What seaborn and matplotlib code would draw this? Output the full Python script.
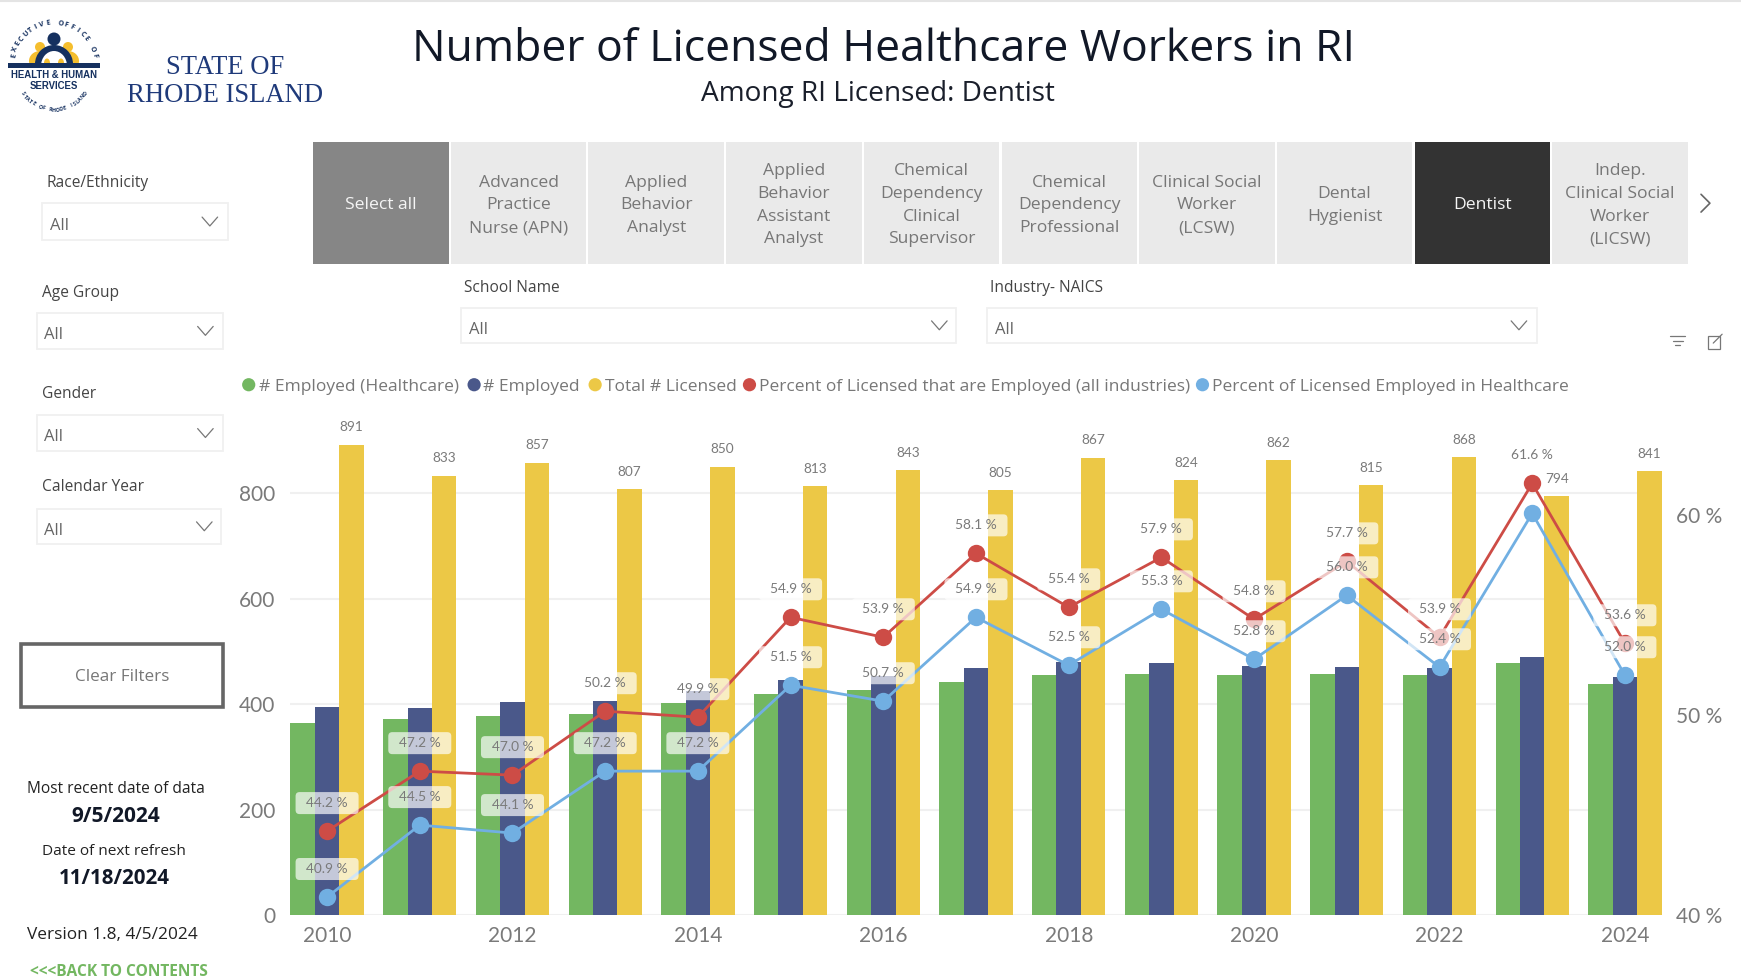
import numpy as np
import pandas as pd
import matplotlib
matplotlib.use("Agg")
import matplotlib.pyplot as plt
from matplotlib.patches import Rectangle, Circle, Ellipse, FancyBboxPatch
from matplotlib.transforms import IdentityTransform
import seaborn as sns

# ---------- data ----------
years = list(range(2010, 2025))
employed_healthcare = [364, 371, 378, 381, 401, 419, 427, 442, 455, 456, 455, 456, 455, 477, 437]
employed = [394, 393, 403, 405, 424, 446, 454, 468, 480, 477, 472, 470, 468, 489, 451]
total_licensed = [891, 833, 857, 807, 850, 813, 843, 805, 867, 824, 862, 815, 868, 794, 841]
pct_employed = [44.2, 47.2, 47.0, 50.2, 49.9, 54.9, 53.9, 58.1, 55.4, 57.9, 54.8, 57.7, 53.9, 61.6, 53.6]
pct_healthcare = [40.9, 44.5, 44.1, 47.2, 47.2, 51.5, 50.7, 54.9, 52.5, 55.3, 52.8, 56.0, 52.4, 60.1, 52.0]
bar_series = ["# Employed (Healthcare)", "# Employed", "Total # Licensed"]
line_series = ["Percent of Licensed that are Employed (all industries)",
               "Percent of Licensed Employed in Healthcare"]
slicer_items = ["Select all", "Advanced\nPractice\nNurse (APN)", "Applied\nBehavior\nAnalyst",
                "Applied\nBehavior\nAssistant\nAnalyst", "Chemical\nDependency\nClinical\nSupervisor",
                "Chemical\nDependency\nProfessional", "Clinical Social\nWorker\n(LCSW)", "Dental\nHygienist",
                "Dentist", "Indep.\nClinical Social\nWorker\n(LICSW)"]
title = "Number of Licensed Healthcare Workers in RI"
subtitle = "Among RI Licensed: Dentist"

GREEN, NAVY, YELLOW, RED, BLUE = "#73B761", "#4A588A", "#ECC846", "#CD4C46", "#71AFE2"
GRAY = "#7A7A7A"
UI = "Open Sans"
NUM = "Lato"
S = 1741 / 1568  # shrunk-view coordinates to full pixels

sns.set_theme(style="white")
plt.rcParams["font.family"] = [UI, "DejaVu Sans"]

W, H = 1741, 977
fig = plt.figure(figsize=(W / 100, H / 100), dpi=100, facecolor="white")

# ---------- page furniture, in pixel coordinates ----------
ui = fig.add_axes([0, 0, 1, 1], zorder=0)
ui.set_xlim(0, W)
ui.set_ylim(H, 0)
ui.axis("off")


def T(x, y, s, size=11, color="#333333", ha="center", va="center", **kw):
    return ui.text(x * S, (y + 2) * S, s, fontsize=size, color=color, ha=ha, va=va, **kw)


def chevron(x, y, w=7, h=4, color="#777777"):
    ui.plot([(x - w) * S, x * S, (x + w) * S], [(y - h) * S, (y + h) * S, (y - h) * S],
            color=color, lw=0.9, solid_capstyle="round")


def dropdown(x0, x1, y0, y1, label, lx, ly, chev):
    ui.add_patch(Rectangle((x0 * S, y0 * S), (x1 - x0) * S, (y1 - y0) * S,
                           fc="white", ec="#F0F0F0", lw=1.3))
    T(lx, ly - 1, label, size=11.2, color="#444444", ha="left")
    T(x0 + 7, (y0 + y1) / 2 + 2, "All", size=12, color="#666666", ha="left")
    chevron(chev, (y0 + y1) / 2)


ui.plot([0, W], [1, 1], color="#E4E4E4", lw=1.5)

T(796, 42.5, title, size=32, color="#111827")
T(791, 82.5, subtitle, size=20.2, color="#1A1F2B")
T(203, 59, "STATE OF", size=19.2, color="#1F3A7A", family="Liberation Serif")
T(203, 84, "RHODE ISLAND", size=19.2, color="#1F3A7A", family="Liberation Serif")

# logo
lx, ly, R = 54, 64, 39
LOGO_NAVY, LOGO_Y = "#15305F", "#F5BE2E"
for px in (40, 68):
    ui.add_patch(Circle((px, 47), 5, fc=LOGO_Y, ec="none"))
    ui.add_patch(Ellipse((px, 61), 22, 20, fc=LOGO_Y, ec="none"))
ui.add_patch(Circle((54, 39), 6.5, fc=LOGO_NAVY, ec="none"))
ui.add_patch(Ellipse((54, 64), 38, 38, fc=LOGO_NAVY, ec="none"))
ui.add_patch(Ellipse((54, 66), 26, 30, fc="white", ec="none"))
ui.add_patch(Ellipse((47, 63), 6, 9, fc=LOGO_Y, ec="none"))
ui.add_patch(Ellipse((61, 63), 6, 9, fc=LOGO_Y, ec="none"))
ui.add_patch(Rectangle((0, 66.5), 120, 40, fc="white", ec="none"))
ui.add_patch(Rectangle((8, 63), 92, 4.5, fc=LOGO_NAVY, ec="none"))
ui.text(54, 75, "HEALTH & HUMAN", fontsize=6.9, color=LOGO_NAVY, fontweight="bold",
        ha="center", va="center", family="Liberation Sans")
ui.text(54, 86, "SERVICES", fontsize=6.9, color=LOGO_NAVY, fontweight="bold",
        ha="center", va="center", family="Liberation Sans")
top_arc = "EXECUTIVE OFFICE OF"
for i, ch in enumerate(top_arc):
    a = np.deg2rad(168 - i * 156 / (len(top_arc) - 1))
    ui.text(lx + R * 1.05 * np.cos(a), ly - R * np.sin(a) * 1.05, ch, fontsize=5.2, color=LOGO_NAVY,
            rotation=np.rad2deg(a) - 90, ha="center", va="center", fontweight="bold")
bot_arc = "STATE OF RHODE ISLAND"
for i, ch in enumerate(bot_arc):
    a = np.deg2rad(215 + i * 110 / (len(bot_arc) - 1))
    ui.text(lx + 38 * np.cos(a), ly + 8 - 38 * np.sin(a), ch, fontsize=3.8, color=LOGO_NAVY,
            rotation=np.rad2deg(a) + 90, ha="center", va="center", fontweight="bold")

# slicer tiles
for i, item in enumerate(slicer_items):
    x0 = 282 + i * 124
    fc, tc = "#EAEAEA", "#777777"
    if item == "Select all":
        fc, tc = "#868686", "#F5F5F5"
    if item == "Dentist":
        fc, tc = "#333333", "#F5F5F5"
    ui.add_patch(Rectangle((x0 * S, 128 * S), 122 * S, 110 * S, fc=fc, ec="none"))
    T(x0 + 61, 183, item, size=12.6, color=tc, linespacing=1.56)
chv_x, chv_y = 1536, 183
ui.plot([(chv_x - 4) * S, (chv_x + 4) * S, (chv_x - 4) * S],
        [(chv_y - 8) * S, chv_y * S, (chv_y + 8) * S], color="#666666", lw=1.2)

# dropdowns
dropdown(38, 205, 183, 216, "Race/Ethnicity", 42, 164, 189)
dropdown(33, 201, 282, 314, "Age Group", 38, 263, 185)
dropdown(33, 201, 374, 406, "Gender", 38, 354, 185)
dropdown(33, 199, 458, 490, "Calendar Year", 38, 438, 184)
dropdown(415, 861, 277, 309, "School Name", 418, 258, 846)
dropdown(889, 1384, 277, 309, "Industry- NAICS", 892, 258, 1368)

# clear filters and notes
ui.add_patch(Rectangle((19 * S, 580 * S), 182 * S, 57 * S, fc="white", ec="#666666", lw=2.6))
T(110, 608, "Clear Filters", size=12.3, color="#777777")
T(104, 709, "Most recent date of data", size=11.2, color="#222222")
T(104, 733, "9/5/2024", size=15, color="#111827", fontweight="bold")
T(103, 765, "Date of next refresh", size=11.1, color="#222222")
T(103, 789, "11/18/2024", size=14.8, color="#111827", fontweight="bold")
T(101, 840, "Version 1.8, 4/5/2024", size=12.4, color="#222222")
T(107, 873, "<<<BACK TO CONTENTS", size=11.2, color="#73B761", fontweight="bold")

# small visual-header icons
for k, (hw, dy) in enumerate([(7, -4), (4.5, 0), (2, 4)]):
    ui.plot([(1511 - hw) * S, (1511 + hw) * S], [(307 + dy) * S] * 2, color="#777777", lw=0.9)
ui.add_patch(Rectangle((1538 * S, 303 * S), 11 * S, 11 * S, fc="none", ec="#777777", lw=0.9))
ui.plot([1543 * S, 1551 * S], [309 * S, 301 * S], color="#777777", lw=0.9)

# legend row
legend_row = [(bar_series[0], GREEN, 224, 233), (bar_series[1], NAVY, 427, 435),
              (bar_series[2], YELLOW, 536, 545), (line_series[0], RED, 675, 684),
              (line_series[1], BLUE, 1083, 1092)]
for name, col, cx, tx in legend_row:
    ui.add_patch(Circle((cx * S, 346.5 * S), 6.6, fc=col, ec="none"))
    T(tx, 346.5, name, size=12.5, color="#777777", ha="left")

# ---------- chart ----------
px_left, px_right, px_bottom, px_top = 290, 1662, 915, 430
ax = fig.add_axes([px_left / W, 1 - px_bottom / H, (px_right - px_left) / W, (px_bottom - px_top) / H], zorder=2)
ax.patch.set_alpha(0)

bars = pd.DataFrame({
    "Year": years * 3,
    "Series": np.repeat(bar_series, len(years)),
    "Count": employed_healthcare + employed + total_licensed,
})
sns.barplot(data=bars, x="Year", y="Count", hue="Series", hue_order=bar_series,
            palette=[GREEN, NAVY, YELLOW], width=0.79, gap=0, saturation=1,
            legend=False, ax=ax, zorder=3, linewidth=0)
ax.bar_label(ax.containers[2], fmt="%d", padding=8.3, fontsize=9.8, color=GRAY, family=NUM)

ax.set_xlim(-0.4, 14.4)
ax.set_ylim(0, 485 / 0.5275)
ax.set_yticks([0, 200, 400, 600, 800])
ax.yaxis.grid(True, color="#F0F0F0", lw=1.5, zorder=0)
ax.set_axisbelow(True)
ax.set_xticks(range(0, 15, 2))
ax.set_xticklabels([str(y) for y in years[::2]])
ax.set_xlabel("")
ax.set_ylabel("")
ax.tick_params(axis="both", length=0, labelcolor=GRAY, labelsize=15)
ax.tick_params(axis="x", pad=8)
ax.tick_params(axis="y", pad=10.6)
for s in ax.spines.values():
    s.set_visible(False)
for lab in ax.get_xticklabels() + ax.get_yticklabels():
    lab.set_family(NUM)

ax2 = ax.twinx()
ax2.patch.set_alpha(0)
lines = pd.DataFrame({
    "Year": years * 2,
    "Series": np.repeat(line_series, len(years)),
    "Pct": pct_employed + pct_healthcare,
})
sns.pointplot(data=lines, x="Year", y="Pct", hue="Series", hue_order=line_series[::-1],
              palette=[BLUE, RED], markers="o", markersize=11, linewidth=2.0,
              errorbar=None, dodge=False, legend=False, ax=ax2)
ax2.set_xlim(-0.4, 14.4)
ax2.set_ylim(40, 40 + 485 / 19.98)
ax2.set_yticks([40, 50, 60])
ax2.set_yticklabels(["40 %", "50 %", "60 %"])
ax2.set_xlabel("")
ax2.set_ylabel("")
ax2.tick_params(axis="y", length=0, labelcolor=GRAY, labelsize=15, pad=10)
ax2.grid(False)
for s in ax2.spines.values():
    s.set_visible(False)
for lab in ax2.get_yticklabels():
    lab.set_family(NUM)


def pct_labels(values, skip=()):
    box_w, box_h, lift = 63, 22, 28  # label plate size and lift above its point, in pixels
    for i, v in enumerate(values):
        if i in skip:
            continue
        cx, cy = ax2.transData.transform((i, v))
        ax2.add_patch(FancyBboxPatch((cx - box_w / 2, cy + lift - box_h / 2), box_w, box_h,
                                     boxstyle="round,pad=0,rounding_size=4", fc="white", ec="none",
                                     alpha=0.68, transform=IdentityTransform(), zorder=19))
        ax2.annotate(f"{v:.1f} %", (i, v), xytext=(0, lift * 0.72), textcoords="offset points",
                     ha="center", va="center", fontsize=9.9, color=GRAY, family=NUM, zorder=20)


pct_labels(pct_employed)
pct_labels(pct_healthcare, skip=(13,))

fig.savefig("out.png", dpi=100, facecolor="white")
